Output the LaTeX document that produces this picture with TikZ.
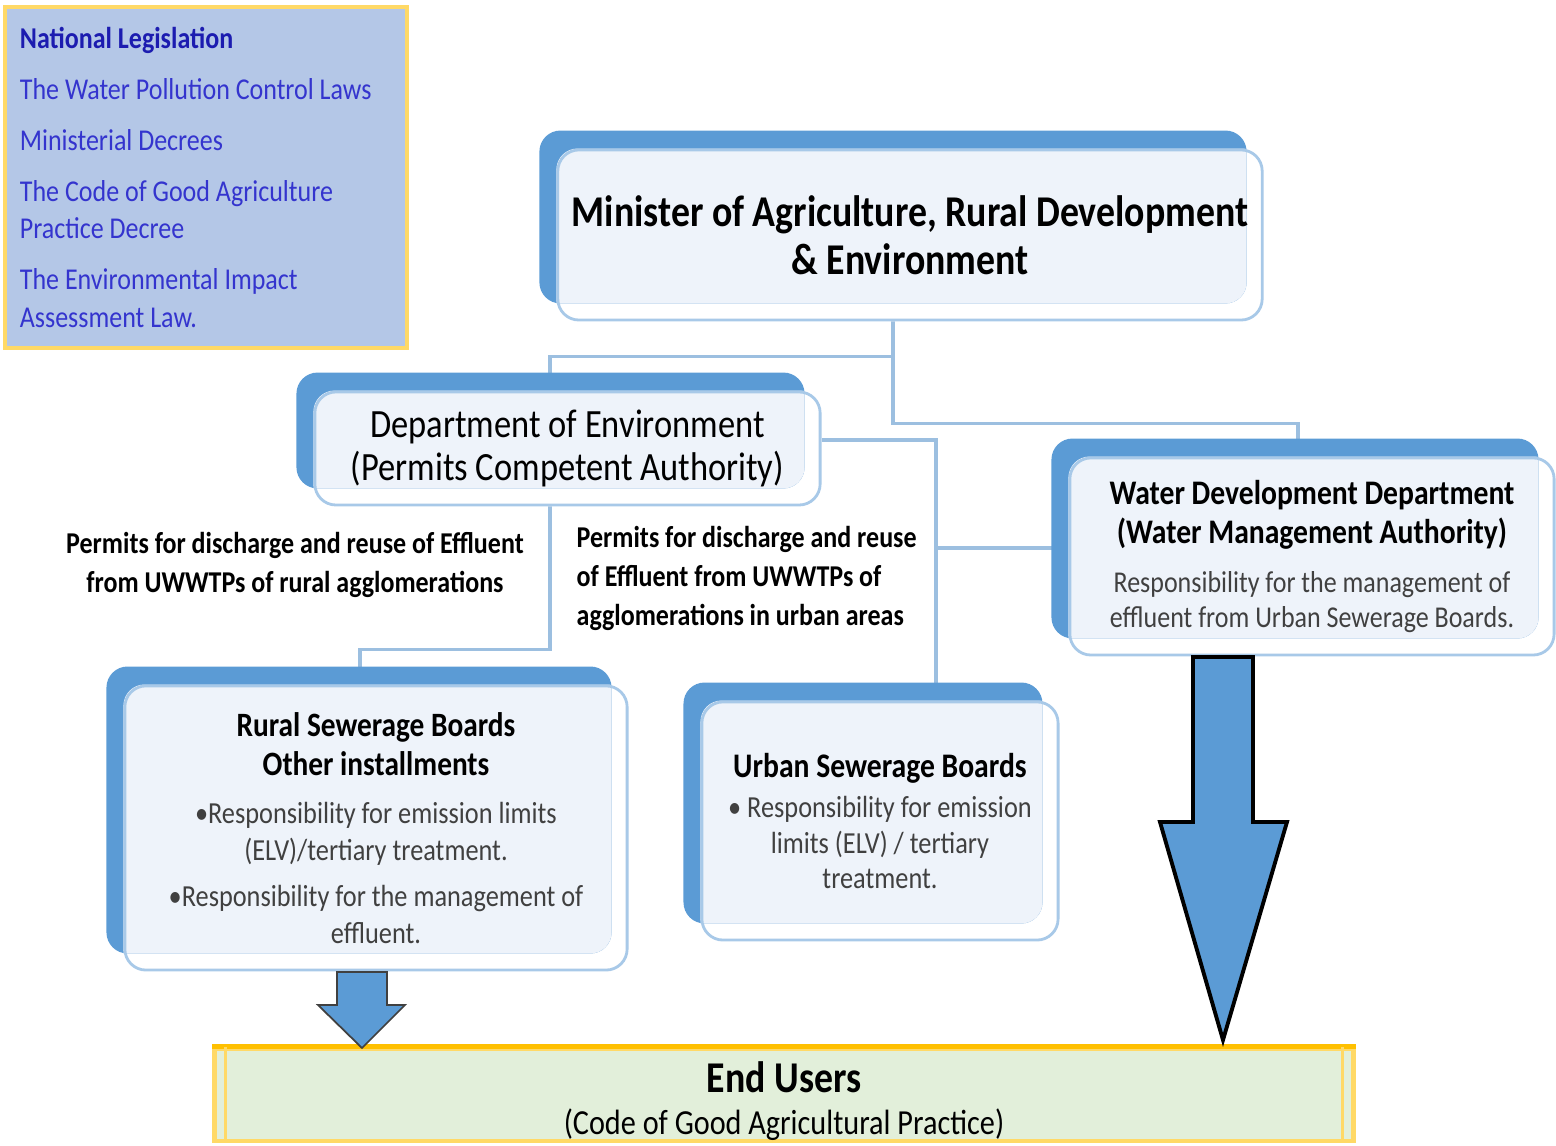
\documentclass[tikz,border=0pt]{standalone}
\usepackage{fontspec}
\setmainfont{Carlito}[FakeStretch=0.86]
\definecolor{deepblue}{HTML}{5B9BD5}
\definecolor{paleblue}{HTML}{EEF3FA}
\definecolor{frameblue}{HTML}{A8C9E8}
\definecolor{linkblue}{HTML}{9CBFE0}
\definecolor{lawfill}{HTML}{B4C7E7}
\definecolor{lawtext}{HTML}{3434CE}
\definecolor{lawhead}{HTML}{1C1CB0}
\definecolor{gold}{HTML}{FFD966}
\definecolor{amber}{HTML}{FFC000}
\definecolor{usergreen}{HTML}{E2EFDA}
\definecolor{bodygray}{HTML}{404040}
\newcommand{\fsz}[2]{\fontsize{#1pt}{#2pt}\selectfont}
\pgfdeclarelayer{links}
\pgfdeclarelayer{back}
\pgfsetlayers{links,back,main}
\tikzstyle{orgframe} = [draw=frameblue, line width=0.8pt, rounded corners=6pt, align=flush center, inner sep=0]
\tikzstyle{link} = [draw=linkblue, line width=0.9pt]
\tikzstyle{lawbox} = [fill=lawfill, draw=gold, line width=1.2pt, text=lawtext, align=flush left, text width=3.72cm, inner xsep=0.15cm, font=\fsz{8.6}{10.8}]
\tikzstyle{userbox} = [fill=usergreen, draw=gold, line width=1.3pt, align=flush center, inner sep=0]
\tikzstyle{note} = [font=\bfseries\fsz{8.6}{11.1}, inner sep=0]
\tikzstyle{fat} = [fill=deepblue, draw=black, line width=1.1pt, line join=miter]
\tikzstyle{slim} = [fill=deepblue, draw=bodygray, line width=0.5pt]
% blue tab behind a box, then the pale part where both overlap
\newcommand{\boxback}[1]{%
\begin{pgfonlayer}{back}
\fill[white, rounded corners=6pt] (#1.north west) rectangle (#1.south east);
\fill[deepblue, rounded corners=6pt] ([shift={(-17,-18)}]#1.north west) rectangle ([shift={(-17,-18)}]#1.south east);
\begin{scope}
\clip[rounded corners=6pt] (#1.north west) rectangle (#1.south east);
\fill[paleblue, rounded corners=6pt] ([shift={(-17,-18)}]#1.north west) rectangle ([shift={(-17,-18)}]#1.south east);
\end{scope}
\end{pgfonlayer}}
\begin{document}
\begin{tikzpicture}[x=0.01cm,y=-0.01cm]
\useasboundingbox (0,0) rectangle (1556,1146);

\node[lawbox,minimum width=4.02cm,minimum height=3.41cm] (laws) at (206,177.5) {%
{\bfseries\color{lawhead}National Legislation}\\[0.13cm]
The Water Pollution Control Laws\\[0.13cm]
Ministerial Decrees\\[0.13cm]
The Code of Good Agriculture\\ Practice Decree\\[0.13cm]
The Environmental Impact\\ Assessment Law.};

\node[orgframe,minimum width=7.04cm,minimum height=1.70cm,text width=7cm,font=\bfseries\fsz{12.5}{13.7}] (minister) at (910,235)
  {Minister of Agriculture, Rural Development\\ \& Environment};
\boxback{minister}

\node[orgframe,minimum width=5.05cm,minimum height=1.13cm,text width=5cm,font=\fsz{11.4}{12.2}] (doe) at (567.5,448.5)
  {Department of Environment\\ (Permits Competent Authority)};
\boxback{doe}

\node[orgframe,minimum width=4.84cm,minimum height=1.97cm,text width=4.8cm,font=\fsz{8.6}{10}] (wdd) at (1312,556.5)
  {{\bfseries\fsz{9.8}{11.1}Water Development Department\\ (Water Management Authority)\par}\vspace{4pt}
  \color{bodygray}Responsibility for the management of\\ effluent from Urban Sewerage Boards.};
\boxback{wdd}

\node[orgframe,minimum width=5.02cm,minimum height=2.84cm,text width=5cm,font=\fsz{8.7}{10.3}] (rsb) at (376,828)
  {{\bfseries\fsz{9.7}{11.1}Rural Sewerage Boards\\ Other installments\par}\vspace{3.4pt}
  \color{bodygray}\textbullet Responsibility for emission limits\\ (ELV)/tertiary treatment.\par\vspace{3pt}
  \textbullet Responsibility for the management of\\ effluent.};
\boxback{rsb}

\node[orgframe,minimum width=3.56cm,minimum height=2.38cm,text width=3.5cm,font=\fsz{8.7}{10.2}] (usb) at (880,821)
  {{\bfseries\fsz{9.8}{11.1}Urban Sewerage Boards\par}\vspace{1.2pt}
  \color{bodygray}\textbullet\ Responsibility for emission\\ limits (ELV) / tertiary\\ treatment.};
\boxback{usb}

\node[userbox,minimum width=11.38cm,minimum height=0.90cm,text width=11.3cm] (users) at (784,1095)
  {{\bfseries\fsz{12.5}{14}\rule{0pt}{12.4pt}End Users\par}\fsz{10}{12.2}(Code of Good Agricultural Practice)};
\draw[amber,line width=1.3pt] (users.north west) -- (users.north east);
\draw[gold,line width=0.8pt] ([xshift=0.13cm]users.north west) -- ([xshift=0.13cm]users.south west);
\draw[gold,line width=0.8pt] ([xshift=-0.13cm]users.north east) -- ([xshift=-0.13cm]users.south east);

\node[note,align=center] (rurallbl) at (295,565) {Permits for discharge and reuse of Effluent\\ from UWWTPs of rural agglomerations};
\node[note,align=left,anchor=west] (urbanlbl) at (576,578) {Permits for discharge and reuse\\ of Effluent from UWWTPs of\\ agglomerations in urban areas};

\begin{pgfonlayer}{links}
\draw[link] ([xshift=-0.17cm]minister.south) -- ++(0,102) -| ([xshift=-0.14cm]wdd.north);
\draw[link] ([xshift=-0.17cm]minister.south) -- ++(0,35) -| ([xshift=-0.175cm]doe.north);
\coordinate (wddin) at ([yshift=0.085cm]wdd.west);
\coordinate (usbin) at ([xshift=0.56cm]usb.north);
\draw[link] ([yshift=0.085cm]doe.east) -| (usbin);
\draw[link] (usbin |- wddin) -- (wddin);
\draw[link] ([xshift=-0.175cm]doe.south) -- ++(0,143) -| ([xshift=-0.16cm]rsb.north);
\end{pgfonlayer}

\draw[slim] (337,972) -- (387,972) -- (387,1005) -- (405,1005) -- (362,1048) -- (318,1005) -- (337,1005) -- cycle;
\draw[fat] (1193,657) -- (1253,657) -- (1253,822) -- (1287,822) -- (1223,1040) -- (1160,822) -- (1193,822) -- cycle;
\end{tikzpicture}
\end{document}
